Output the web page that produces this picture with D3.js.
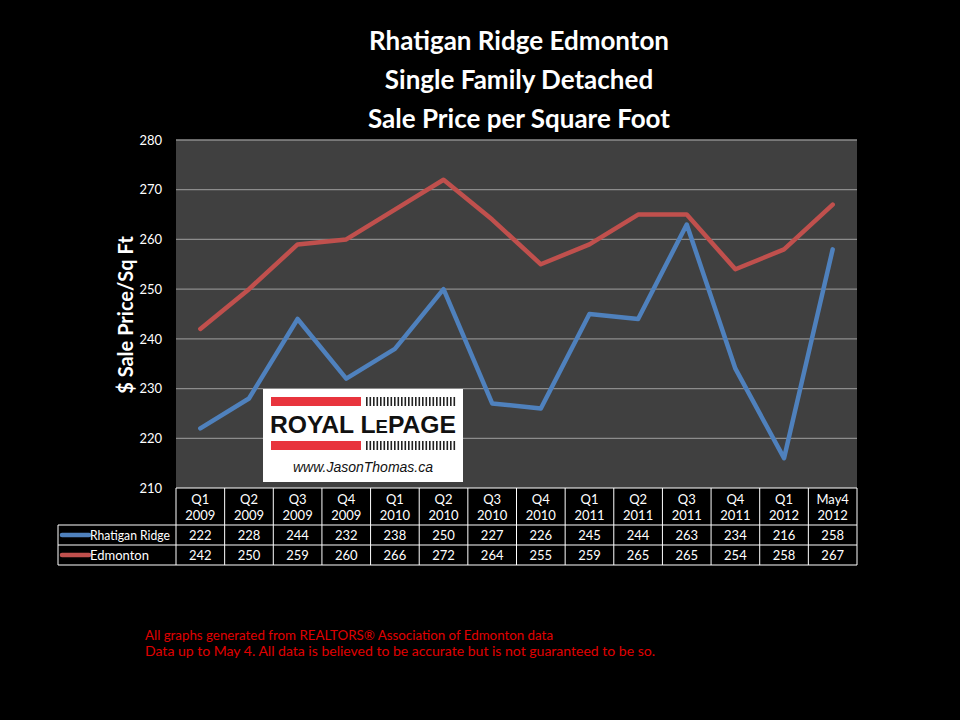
<!DOCTYPE html>
<html><head><meta charset="utf-8">
<script src="https://cdn.jsdelivr.net/npm/d3@7"></script>
<style>body{margin:0;background:#000;}svg{display:block;}</style>
</head><body>
<script>
const quarters = ["Q1","Q2","Q3","Q4","Q1","Q2","Q3","Q4","Q1","Q2","Q3","Q4","Q1","May4"];
const years = ["2009","2009","2009","2009","2010","2010","2010","2010","2011","2011","2011","2011","2012","2012"];
const rhatigan = [222,228,244,232,238,250,227,226,245,244,263,234,216,258];
const edmonton = [242,250,259,260,266,272,264,255,259,265,265,254,258,267];
const seriesNames = ["Rhatigan Ridge","Edmonton"];
const seriesColors = ["#4f81bd","#c0504d"];
const yTicks = [210,220,230,240,250,260,270,280];
const titleLines = ["Rhatigan Ridge Edmonton","Single Family Detached","Sale Price per Square Foot"];
const footerLines = ["All graphs generated from REALTORS\u00AE Association of Edmonton data","Data up to May 4.  All data is believed to be accurate but is not guaranteed to be so."];

const W=960,H=720;
const svg=d3.select("body").append("svg").attr("width",W).attr("height",H);
svg.append("rect").attr("width",W).attr("height",H).attr("fill","#000");
const font="Lato, 'Open Sans', sans-serif";
const L=176,R=857,T=140,B=488;
const cats=quarters.map((q,i)=>i);
const x=d3.scaleBand().domain(cats).range([L,R]);
const y=d3.scaleLinear().domain([210,280]).range([B,T]);

// title
svg.append("g").selectAll("text").data(titleLines).join("text")
  .attr("x",519).attr("y",(d,i)=>50+i*39).attr("text-anchor","middle")
  .attr("fill","#fff").attr("font-family",font).attr("font-weight","bold").attr("font-size",26).text(d=>d);

// plot bg
svg.append("rect").attr("x",L).attr("y",T).attr("width",R-L).attr("height",B-T).attr("fill","#404040");
// grid
svg.append("g").selectAll("line").data(yTicks.slice(1)).join("line")
  .attr("x1",L).attr("x2",R).attr("y1",d=>y(d)).attr("y2",d=>y(d)).attr("stroke","#8c8c8c").attr("stroke-width",1.3);
// y axis
const ya=svg.append("g").attr("transform",`translate(${L},0)`).call(d3.axisLeft(y).tickValues(yTicks).tickSize(0).tickPadding(14));
ya.select(".domain").remove();
ya.selectAll("text").attr("fill","#fff").attr("font-family",font).attr("font-size",13);

svg.append("text").attr("transform","translate(133,315) rotate(-90)").attr("text-anchor","middle")
  .attr("fill","#fff").attr("font-family",font).attr("font-weight","bold").attr("font-size",20).text("$ Sale Price/Sq Ft");

// logo
const lg=svg.append("g");
lg.append("rect").attr("x",263).attr("y",389).attr("width",200).attr("height",93).attr("fill","#fff");
lg.append("rect").attr("x",271).attr("y",397).attr("width",90).attr("height",9).attr("fill","#e8343d");
lg.append("rect").attr("x",271).attr("y",441).attr("width",90).attr("height",9).attr("fill","#e8343d");
const stripes=d3.range(26);
[397,441].forEach(yy=>{
  lg.append("g").selectAll("rect").data(stripes).join("rect")
   .attr("x",d=>366+d*3.5).attr("y",yy).attr("width",1.6).attr("height",9).attr("fill","#222");
});
lg.append("text").attr("x",363).attr("y",433).attr("text-anchor","middle").attr("font-family","'Liberation Sans', Arial, sans-serif")
  .attr("font-weight","bold").attr("font-size",24).attr("fill","#111").attr("textLength",186).attr("lengthAdjust","spacingAndGlyphs")
  .html('ROYAL L<tspan font-size="18">E</tspan>PAGE');
lg.append("text").attr("x",363).attr("y",472).attr("text-anchor","middle").attr("font-family","'Liberation Sans', Arial, sans-serif")
  .attr("font-style","italic").attr("font-size",14).attr("fill","#111").text("www.JasonThomas.ca");

// lines
const line=d3.line().x((d,i)=>x(i)+x.bandwidth()/2).y(d=>y(d));
[rhatigan,edmonton].forEach((s,k)=>{
  svg.append("path").datum(s).attr("d",line).attr("fill","none").attr("stroke",seriesColors[k])
    .attr("stroke-width",4.5).attr("stroke-linejoin","round").attr("stroke-linecap","round");
});

// table
const TL=58, rows=[488,525,545,565];
const tg=svg.append("g");
const bw=x.bandwidth();
const tfs=13;
tg.append("g").selectAll("text").data(cats).join("text")
  .attr("x",d=>x(d)+bw/2).attr("y",504).attr("text-anchor","middle").attr("fill","#fff").attr("font-family",font).attr("font-size",tfs)
  .text(d=>quarters[d]);
tg.append("g").selectAll("text").data(cats).join("text")
  .attr("x",d=>x(d)+bw/2).attr("y",520).attr("text-anchor","middle").attr("fill","#fff").attr("font-family",font).attr("font-size",tfs)
  .text(d=>years[d]);
[rhatigan,edmonton].forEach((s,k)=>{
  const cy=(rows[k+1]+rows[k+2])/2+5;
  tg.append("g").selectAll("text").data(s).join("text")
    .attr("x",(d,i)=>x(i)+bw/2).attr("y",cy).attr("text-anchor","middle").attr("fill","#fff").attr("font-family",font).attr("font-size",tfs).text(d=>d);
  tg.append("line").attr("x1",62).attr("x2",89).attr("y1",cy-5).attr("y2",cy-5).attr("stroke",seriesColors[k]).attr("stroke-width",4.5).attr("stroke-linecap","round");
  tg.append("text").attr("x",90).attr("y",cy).attr("fill","#fff").attr("font-family",font).attr("font-size",tfs)
    .attr("textLength",k===0?80:0).attr("lengthAdjust","spacingAndGlyphs").text(seriesNames[k]);
});
const wc="#fff";
tg.append("line").attr("x1",L).attr("x2",R).attr("y1",rows[0]).attr("y2",rows[0]).attr("stroke",wc);
[1,2,3].forEach(r=>tg.append("line").attr("x1",TL).attr("x2",R).attr("y1",rows[r]).attr("y2",rows[r]).attr("stroke",wc));
tg.append("line").attr("x1",TL).attr("x2",TL).attr("y1",rows[1]).attr("y2",rows[3]).attr("stroke",wc);
tg.append("g").selectAll("line").data(d3.range(15)).join("line")
  .attr("x1",d=>L+d*bw).attr("x2",d=>L+d*bw).attr("y1",rows[0]).attr("y2",rows[3]).attr("stroke",wc);

// footer
svg.append("g").selectAll("text").data(footerLines).join("text")
  .attr("x",145).attr("y",(d,i)=>640+i*16).attr("fill","#e00000").attr("font-family",font).attr("font-size",13.5)
  .attr("textLength",(d,i)=>i===0?408:510).attr("lengthAdjust","spacingAndGlyphs").text(d=>d);
</script>
</body></html>
